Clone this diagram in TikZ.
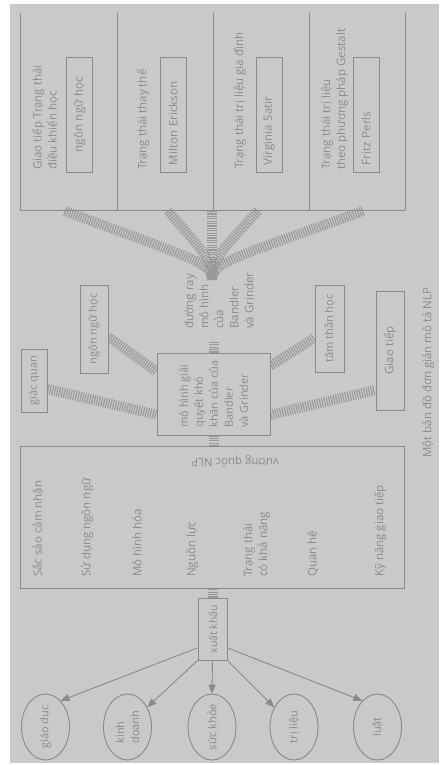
\documentclass[tikz,border=0pt]{standalone}
\usepackage{fontspec}
\setmainfont{Open Sans}
\usetikzlibrary{shapes.geometric,arrows.meta,calc}
\definecolor{bgc}{RGB}{201,201,201}
\definecolor{linec}{RGB}{138,138,138}
\definecolor{textc}{RGB}{140,140,140}
\definecolor{railc}{RGB}{152,152,152}
\pgfdeclarelayer{bglayer}
\pgfdeclarelayer{raillayer}
\pgfsetlayers{bglayer,raillayer,main}
\begin{document}
\begin{tikzpicture}[x=1pt,y=-1pt,
  every node/.style={font=\fontsize{11.5}{15}\selectfont, text=textc},
  small/.style={font=\fontsize{11}{15}\selectfont},
  frame/.style={draw=linec, line width=0.9pt},
  lbl/.style={rotate=90, anchor=west, inner sep=0pt, align=left},
  rbox/.style={draw=linec, fill=bgc, line width=0.9pt, rotate=90, inner sep=0pt, align=center},
  pbox/.style={rbox, minimum width=115, minimum height=26, text width=101, inner xsep=7pt, align=left},
  ell/.style={ellipse, draw=linec, fill=bgc, line width=0.9pt, minimum width=48, minimum height=66, inner sep=0pt},
  arr/.style={draw=linec, line width=0.9pt, -{Triangle[length=9pt,width=7pt]}},
  rail/.style={draw=railc, line width=10pt, dash pattern=on 1.1pt off 1.3pt}
]
\begin{pgfonlayer}{bglayer}
\fill[white] (0,0) rectangle (439,765);
\fill[bgc] (10,4) rectangle (439,763);
\end{pgfonlayer}
\useasboundingbox (0,0) rectangle (439,765);

% top panels
\foreach \x in {20,117,213,309,405} \draw[frame] (\x,13) -- (\x,210);
\draw[frame] (20,210) -- (405,210);

\node[lbl] (p1) at (45.5,170) {Giao tiếp Trạng thái\\điều khiển học};
\node[lbl] (p2) at (143,170) {Trạng thái thay thế};
\node[lbl] (p3) at (240,169) {Trạng thái trị liệu gia đình};
\node[lbl] (p4) at (334.5,170) {Trạng thái trị liệu\\theo phương pháp Gestalt};

\node[pbox, align=center] (b1) at (79.5,114.5) {ngôn ngữ học};
\node[pbox] (b2) at (173,114.5) {Milton Erickson};
\node[pbox] (b3) at (269,114.5) {Virginia Satir};
\node[pbox] (b4) at (366,114.5) {Fritz Perls};

% side boxes
\node[rbox, small, minimum width=63, minimum height=26] (gq) at (34,380.5) {giác quan};
\node[rbox, small, minimum width=88, minimum height=28] (nn) at (94,329) {ngôn ngữ học};
\node[rbox, small, minimum width=87, minimum height=29] (tt) at (329.5,328.5) {tâm thần học};
\node[rbox, minimum width=119, minimum height=28] (gt) at (390,350.5) {Giao tiếp};

% central box
\node[rbox, small, minimum width=82, minimum height=113, align=left] (cb) at (213.5,394) {mô hình giải\\quyết khó\\khăn của của\\Bandler\\và Grinder};

\node[lbl] (lab) at (219,329) {đường ray\\mô hình\\của\\Bandler\\và Grinder};

% big box
\node[draw=linec, fill=bgc, line width=0.9pt, minimum width=384, minimum height=142, inner sep=0pt] (nlp) at (212,517) {};
\node[lbl] (t1) at (38,577) {Sắc sảo cảm nhận};
\node[lbl] (t2) at (87,577) {Sử dụng ngôn ngữ};
\node[lbl] (t3) at (137,577) {Mô hình hóa};
\node[lbl] (t4) at (192,577) {Nguồn lực};
\node[lbl] (t5) at (256.5,577) {Trạng thái\\có khả năng};
\node[lbl] (t6) at (313,577) {Quan hệ};
\node[lbl] (t7) at (380,577) {Kỹ năng giao tiếp};
\node[rotate=180, inner sep=0pt] (vq) at (235,462) {vương quốc NLP};

% export
\node[rbox, font=\fontsize{10.5}{15}\selectfont, minimum width=62, minimum height=29] (xk) at (212.5,629) {xuất khẩu};

\node[ell] (gd) at (45.5,727) {};
\node[rotate=90, small] at (gd) {giáo dục};
\node[ell] (kd) at (127.5,727) {};
\node[rotate=90, small, align=left] at (kd) {kinh\\doanh};
\node[ell] (sk) at (212,727) {};
\node[rotate=90, small] at (sk) {sức khỏe};
\node[ell] (tl) at (294,727) {};
\node[rotate=90, small] at (tl) {trị liệu};
\node[ell] (lu) at (377.5,727) {};
\node[rotate=90, small] at (lu) {luật};

\draw[arr] ($(xk.north west)!0.2!(xk.north east)$) -- (gd.60);
\draw[arr] (xk.north west) -- (kd.45);
\draw[arr] (xk.west) -- (sk.north);
\draw[arr] (xk.south west) -- (tl.135);
\draw[arr] ($(xk.south west)!0.2!(xk.south east)$) -- (lu.120);

\node[lbl] (cap) at (428,458) {Một bản đồ đơn giản mô tả NLP};

% rails
\coordinate (j) at (212,280);
\coordinate (f1) at (65,211);
\coordinate (f2) at (168,211);
\coordinate (f3) at (212,211);
\coordinate (f4) at (258,211);
\coordinate (f5) at (363,211);
\coordinate (labb) at (213.5,342);
\begin{pgfonlayer}{raillayer}
\draw[rail] (f1) .. controls (190,258) and (212,262) .. (j);
\draw[rail] (f2) .. controls (200,248) and (212,258) .. (j);
\draw[rail] (f3) -- (j);
\draw[rail] (f4) .. controls (224,248) and (212,258) .. (j);
\draw[rail] (f5) .. controls (234,258) and (212,262) .. (j);
\draw[rail] (cb.east) -- (labb);
\draw[rail] (cb.west) -- (cb.west |- nlp.north);
\draw[rail] (xk.east) -- (xk.east |- nlp.south);
\draw[rail] ($(gq.south)+(0,8.5)$) -- ($(cb.north west)!0.25!(cb.north east)$);
\draw[rail] ($(nn.south)+(0,8)$) -- ($(cb.north west)!0.77!(cb.north east)$);
\draw[rail] ($(cb.south west)!0.84!(cb.south east)$) -- ($(tt.north)+(0,9.5)$);
\draw[rail] ($(cb.south west)!0.25!(cb.south east)$) -- ($(gt.north)+(0,39.5)$);
\end{pgfonlayer}
\end{tikzpicture}
\end{document}
